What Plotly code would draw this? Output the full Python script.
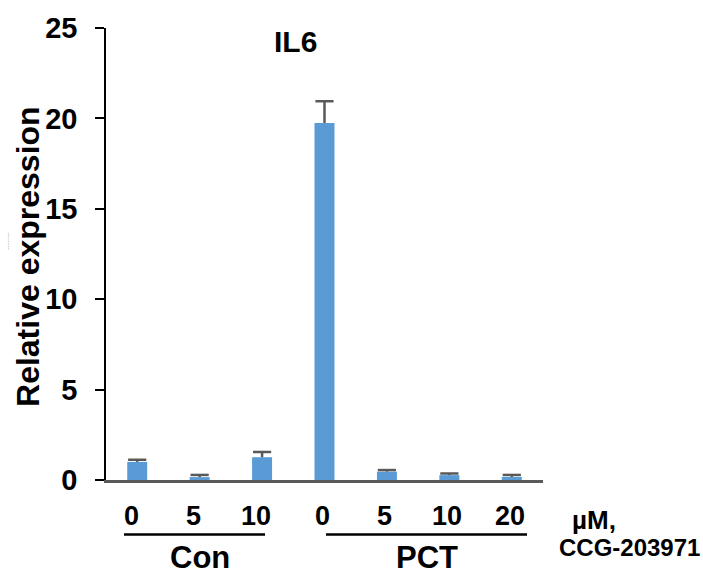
import plotly.graph_objects as go

# IL6 relative expression, CCG-203971 dose series under Con and PCT
groups = ["Con", "Con", "Con", "PCT", "PCT", "PCT", "PCT"]
doses = ["0", "5", "10", "0", "5", "10", "20"]
expression = [1.0, 0.16, 1.26, 19.75, 0.46, 0.27, 0.17]
error_up = [0.12, 0.12, 0.29, 1.2, 0.09, 0.09, 0.11]
y_ticks = [0, 5, 10, 15, 20, 25]

FONT = "Liberation Sans, Arial, sans-serif"
BAR_COLOR = "#5B9BD5"
ERR_COLOR = "#595959"

W, H = 703, 576
L, R, T, B = 106, 160, 24, 96
plot_w = W - L - R
plot_h = H - T - B

positions = list(range(len(expression)))
err_tops = [v + e for v, e in zip(expression, error_up)]

fig = go.Figure()
fig.add_trace(go.Bar(
    x=positions,
    y=expression,
    width=0.32,
    marker=dict(color=BAR_COLOR, line=dict(width=0)),
    error_y=dict(type="data", array=error_up, arrayminus=[0] * len(error_up),
                 symmetric=False, color=ERR_COLOR, thickness=2.5, width=0),
    showlegend=False, hoverinfo="skip",
))
# upper caps of the error bars
fig.add_trace(go.Scatter(
    x=positions, y=err_tops, mode="markers",
    marker=dict(symbol="line-ew", size=13, line=dict(color=ERR_COLOR, width=2.5)),
    showlegend=False, hoverinfo="skip",
))


def px_to_paper_x(px):
    return (px - L) / plot_w


def px_to_paper_y(py):
    return (H - B - py) / plot_h


def label(x, y, text, size, xref="paper", xanchor="center", angle=0, color="black", xshift=0):
    return dict(x=x, y=y, xref=xref, yref="paper", text=text, showarrow=False,
                xanchor=xanchor, yanchor="middle", textangle=angle, xshift=xshift,
                font=dict(family=FONT, size=size, color=color))


annotations = []

# dose labels under each bar
label_shift = {"Con": -6, "PCT": -2}
for pos, grp, dose in zip(positions, groups, doses):
    annotations.append(label(pos, px_to_paper_y(516), f"<b>{dose}</b>", 27,
                             xref="x", xshift=label_shift[grp]))

# group names
annotations.append(label(px_to_paper_x(200), px_to_paper_y(558), "<b>Con</b>", 31))
annotations.append(label(px_to_paper_x(427), px_to_paper_y(558), "<b>PCT</b>", 31))

# unit label
annotations.append(label(px_to_paper_x(570), px_to_paper_y(520), "<b>µM,</b>", 26, xanchor="left"))
annotations.append(label(px_to_paper_x(702), px_to_paper_y(548), "<b>CCG-203971</b>", 24, xanchor="right"))

# chart title
annotations.append(label(px_to_paper_x(295), px_to_paper_y(38), "<b>IL6</b>", 30))

# y-axis title
annotations.append(label(px_to_paper_x(28), px_to_paper_y(255), "<b>Relative expression</b>", 32, angle=-90))
annotations.append(label(px_to_paper_x(8), px_to_paper_y(240), "Relative expression", 2,
                         angle=-90, color="#777777"))

# group underlines
shapes = [
    dict(type="line", xref="paper", yref="paper",
         x0=px_to_paper_x(124), x1=px_to_paper_x(265),
         y0=px_to_paper_y(535), y1=px_to_paper_y(535),
         line=dict(color="black", width=2.5)),
    dict(type="line", xref="paper", yref="paper",
         x0=px_to_paper_x(326), x1=px_to_paper_x(527),
         y0=px_to_paper_y(535), y1=px_to_paper_y(535),
         line=dict(color="black", width=2.5)),
]

fig.update_layout(
    width=W, height=H,
    margin=dict(l=L, r=R, t=T, b=B, pad=0),
    paper_bgcolor="white", plot_bgcolor="white",
    annotations=annotations,
    shapes=shapes,
    xaxis=dict(
        range=[-0.5, len(expression) - 0.5],
        showticklabels=False, ticks="", showgrid=False, zeroline=False,
        showline=True, linecolor=ERR_COLOR, linewidth=2.5,
    ),
    yaxis=dict(
        range=[0, 25], tickvals=y_ticks,
        ticktext=[f"<b>{v}</b>" for v in y_ticks],
        ticks="outside", ticklen=9, tickwidth=1.5, tickcolor="black",
        showline=True, linecolor="black", linewidth=1.5,
        showgrid=False, zeroline=False,
        tickfont=dict(family=FONT, size=29, color="black"),
        ticklabelstandoff=12,
    ),
)

fig.write_html("out.html")
